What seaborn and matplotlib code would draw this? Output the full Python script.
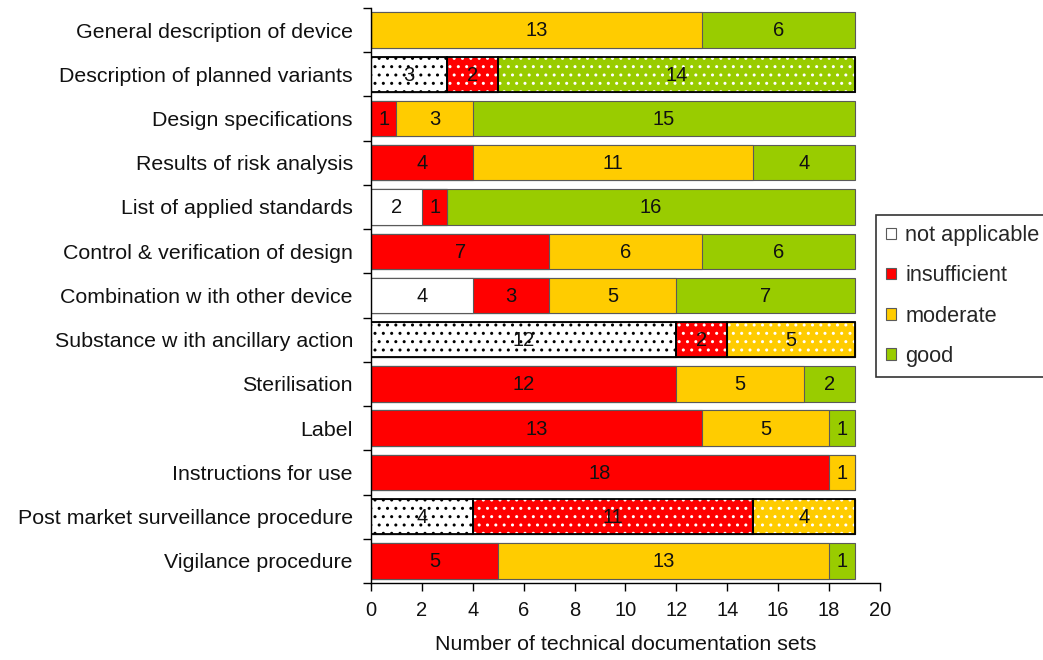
import numpy as np
import pandas as pd
import matplotlib
matplotlib.use("Agg")
import matplotlib.pyplot as plt
from matplotlib.patches import Patch
import seaborn as sns

# Documentation elements, top to bottom
categories = [
    "General description of device",
    "Description of planned variants",
    "Design specifications",
    "Results of risk analysis",
    "List of applied standards",
    "Control & verification of design",
    "Combination w ith other device",
    "Substance w ith ancillary action",
    "Sterilisation",
    "Label",
    "Instructions for use",
    "Post market surveillance procedure",
    "Vigilance procedure",
]

# Number of technical documentation sets per assessment
not_applicable = [0, 3, 0, 0, 2, 0, 4, 12, 0, 0, 0, 4, 0]
insufficient = [0, 2, 1, 4, 1, 7, 3, 2, 12, 13, 18, 11, 5]
moderate = [13, 0, 3, 11, 0, 6, 5, 5, 5, 5, 1, 4, 13]
good = [6, 14, 15, 4, 16, 6, 7, 0, 2, 1, 0, 0, 1]

# Rows whose assessment is shown with a dotted fill
dotted_rows = [
    "Description of planned variants",
    "Substance w ith ancillary action",
    "Post market surveillance procedure",
]

series_names = ["not applicable", "insufficient", "moderate", "good"]
series_values = [not_applicable, insufficient, moderate, good]
series_colors = ["#FFFFFF", "#FF0000", "#FFCC00", "#99CC00"]
dot_colors = ["#000000", "#FFFFFF", "#FFFFFF", "#FFFFFF"]

sns.set_theme(style="ticks")
plt.rcParams["font.family"] = ["Liberation Sans", "DejaVu Sans"]
plt.rcParams["hatch.linewidth"] = 1.0

df = pd.DataFrame({"category": categories})
for name, vals in zip(series_names, series_values):
    df[name] = vals
cum = df[series_names].cumsum(axis=1)
for name in series_names:
    df["cum_" + name] = cum[name]
df["start_" + series_names[0]] = 0
for prev, name in zip(series_names[:-1], series_names[1:]):
    df["start_" + name] = df["cum_" + prev]

fig = plt.figure(figsize=(10.43, 6.6), dpi=100)
ax = fig.add_axes([0.3557, 0.1167, 0.4880, 0.8713])

# Stacked bars: draw cumulative totals from the longest to the shortest
for name, color in reversed(list(zip(series_names, series_colors))):
    sns.barplot(
        data=df, y="category", x="cum_" + name, color=color, orient="h",
        order=categories, width=0.8, saturation=1, errorbar=None,
        edgecolor="#5a5a5a", linewidth=0.8, ax=ax,
    )

# Dotted fill and black outline on selected rows
idx = np.arange(len(categories))
for name, dcol in zip(series_names, dot_colors):
    mask = df["category"].isin(dotted_rows) & (df[name] > 0)
    ax.barh(idx[mask], df.loc[mask, name], left=df.loc[mask, "start_" + name],
            height=0.8, facecolor="none", edgecolor=dcol, linewidth=0,
            hatch="..", zorder=3)
    ax.barh(idx[mask], df.loc[mask, name], left=df.loc[mask, "start_" + name],
            height=0.8, facecolor="none", edgecolor="black", linewidth=1.3,
            zorder=4)

# Segment value labels
for name in series_names:
    for i, (v, s) in enumerate(zip(df[name], df["start_" + name])):
        if v > 0:
            ax.text(s + v / 2, i + 0.02, str(v), ha="center", va="center",
                    fontsize=14.5, color="#111111", zorder=5)

ax.set_xlim(0, 20)
ax.set_ylim(len(categories) - 0.5, -0.5)
ax.set_xticks(np.arange(0, 21, 2))
ax.set_yticks(idx)
ax.set_yticklabels(categories)
ax.set_yticks(np.arange(-0.5, len(categories), 1), minor=True)
ax.tick_params(axis="y", which="major", length=0, pad=13, labelsize=15.4,
               colors="#111111")
ax.tick_params(axis="y", which="minor", length=6, width=1, color="black",
               direction="out")
ax.tick_params(axis="x", length=6, width=1, color="black", direction="out",
               pad=7, labelsize=14.5, labelcolor="#111111")
ax.set_xlabel("Number of technical documentation sets", fontsize=15.4,
              color="#111111", labelpad=11)
ax.set_ylabel("")
for side in ["top", "right"]:
    ax.spines[side].set_visible(False)
for side in ["left", "bottom"]:
    ax.spines[side].set_color("black")
    ax.spines[side].set_linewidth(1)

handles = [Patch(facecolor=c, edgecolor="#5a5a5a", linewidth=0.8)
           for c in series_colors]
leg = fig.legend(handles, series_names, loc="center left",
                 bbox_to_anchor=(876 / 1043, 1 - 296 / 660), fontsize=15.7,
                 frameon=True, fancybox=False, edgecolor="black",
                 handlelength=0.45, handleheight=0.45, handletextpad=0.45,
                 labelspacing=0.88, borderpad=0.45, borderaxespad=0)
leg.get_frame().set_linewidth(1.2)

fig.savefig("out.png", dpi=100)
